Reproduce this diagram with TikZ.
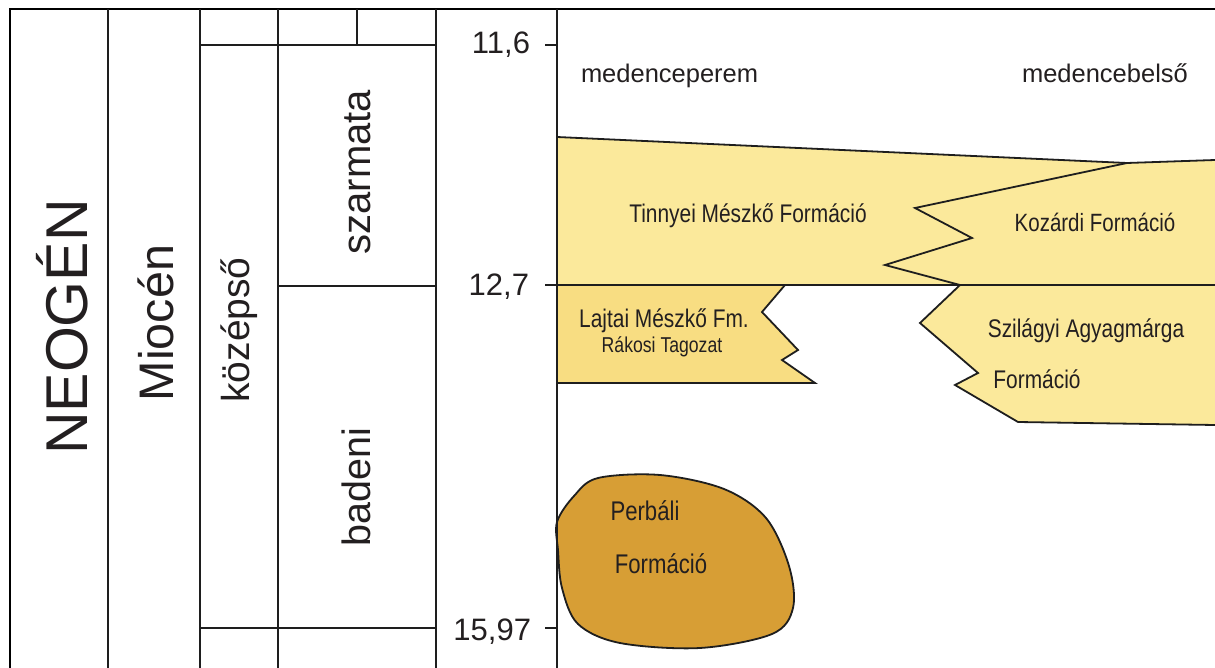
\documentclass[tikz,border=0pt]{standalone}
\usepackage{fontspec}
\setmainfont{Liberation Sans}
\newfontfamily\narrowf[FakeStretch=0.82]{Liberation Sans}
\definecolor{txt}{HTML}{231F20}
\definecolor{linec}{HTML}{1E1E1E}
\definecolor{lightyel}{HTML}{FBE99B}
\definecolor{midyel}{HTML}{F8DD82}
\definecolor{brown}{HTML}{D79E35}
\tikzset{
  gridline/.style={line width=1.8pt, draw=linec},
  frameline/.style={line width=2.8pt, draw=black},
  fmline/.style={line width=1.8pt, draw=linec, line join=miter},
  lbl/.style={inner sep=0pt, outer sep=0pt, text=txt},
  biglbl/.style={lbl, rotate=90, anchor=base},
  fmlbl/.style={lbl, anchor=base, font=\narrowf\fontsize{#1}{#1}\selectfont},
  numlbl/.style={lbl, anchor=base east, font=\fontsize{31}{31}\selectfont}
}
\begin{document}
\begin{tikzpicture}[x=1pt,y=-1pt]
\useasboundingbox (0,0) rectangle (1215,668);
\fill[white] (0,0) rectangle (1215,668);

% ---------- formation fills ----------
\fill[lightyel] (557,137) -- (1127,163) -- (915,208) -- (972,238) -- (885,265) -- (960,285) -- (557,285) -- cycle;
\fill[lightyel] (1127,163) -- (1215,160) -- (1215,285) -- (960,285) -- (885,265) -- (972,238) -- (915,208) -- cycle;
\fill[midyel] (557,285) -- (785,285) -- (762,312) -- (798,350) -- (782,360) -- (815,383) -- (557,383) -- cycle;
\fill[lightyel] (960,285) -- (920,323) -- (978,373) -- (955,385) -- (1018,422) -- (1215,425) -- (1215,285) -- cycle;
\filldraw[fill=brown, fmline] plot[smooth cycle, tension=0.55] coordinates {(557,522) (574,496) (598,478) (660,475) (724,489) (766,518) (789,566) (793,608) (772,634) (700,648) (620,643) (578,624) (562,588) (558,550)};

% ---------- formation outlines ----------
\draw[fmline] (557,137) -- (1127,163) -- (1215,160);
\draw[fmline] (1127,163) -- (915,208) -- (972,238) -- (885,265) -- (960,285);
\draw[fmline] (545,285) -- (1215,285);
\draw[fmline] (785,285) -- (762,312) -- (798,350) -- (782,360) -- (815,383) -- (557,383);
\draw[fmline] (960,285) -- (920,323) -- (978,373) -- (955,385) -- (1018,422) -- (1215,425);

% ---------- stratigraphic grid ----------
\draw[frameline] (10,668) -- (10,9) -- (1215,9);
\draw[gridline] (108,9) -- (108,668);
\draw[gridline] (200,9) -- (200,668);
\draw[gridline] (278,9) -- (278,668);
\draw[gridline] (436,9) -- (436,668);
\draw[gridline] (357,9) -- (357,45);
\draw[gridline] (200,45) -- (436,45);
\draw[gridline] (278,286) -- (436,286);
\draw[gridline] (200,628) -- (436,628);
\draw[gridline] (557,9) -- (557,668);
\draw[gridline] (545,45) -- (557,45);
\draw[gridline] (545,628) -- (557,628);

% ---------- column labels ----------
\node[biglbl, font=\fontsize{59}{59}\selectfont] (neogen) at (87,327) {NEOGÉN};
\node[biglbl, font=\fontsize{48.5}{48.5}\selectfont] (miocen) at (173,323) {Miocén};
\node[biglbl, font=\fontsize{39}{39}\selectfont] (kozepso) at (249,330) {középső};
\node[biglbl, font=\fontsize{40}{40}\selectfont] (szarmata) at (370,172) {szarmata};
\node[biglbl, font=\fontsize{39.5}{39.5}\selectfont] (badeni) at (370,487) {badeni};

% ---------- ages ----------
\node[numlbl] (a116) at (530,54) {11,6};
\node[numlbl] (a127) at (529,295) {12,7};
\node[numlbl] (a1597) at (531,640) {15,97};

% ---------- facies headers ----------
\node[lbl, anchor=base west, font=\fontsize{25.5}{25.5}\selectfont] (perem) at (581,83) {medenceperem};
\node[lbl, anchor=base west, font=\fontsize{25.5}{25.5}\selectfont] (belso) at (1022,83) {medencebelső};

% ---------- formation labels ----------
\node[fmlbl=25.5] (tinnyei) at (748,223) {Tinnyei Mészkő Formáció};
\node[fmlbl=25] (kozardi) at (1095,232) {Kozárdi Formáció};
\node[fmlbl=25.5] (lajtai) at (664,327) {Lajtai Mészkő Fm.};
\node[fmlbl=21.5] (rakosi) at (662,352) {Rákosi Tagozat};
\node[fmlbl=25.5] (szilagyi) at (1086,337) {Szilágyi Agyagmárga};
\node[fmlbl=25.5] (szilfm) at (1037,388) {Formáció};
\node[fmlbl=27] (perbali) at (645,520) {Perbáli};
\node[fmlbl=27] (perbfm) at (661,573) {Formáció};
\end{tikzpicture}
\end{document}
